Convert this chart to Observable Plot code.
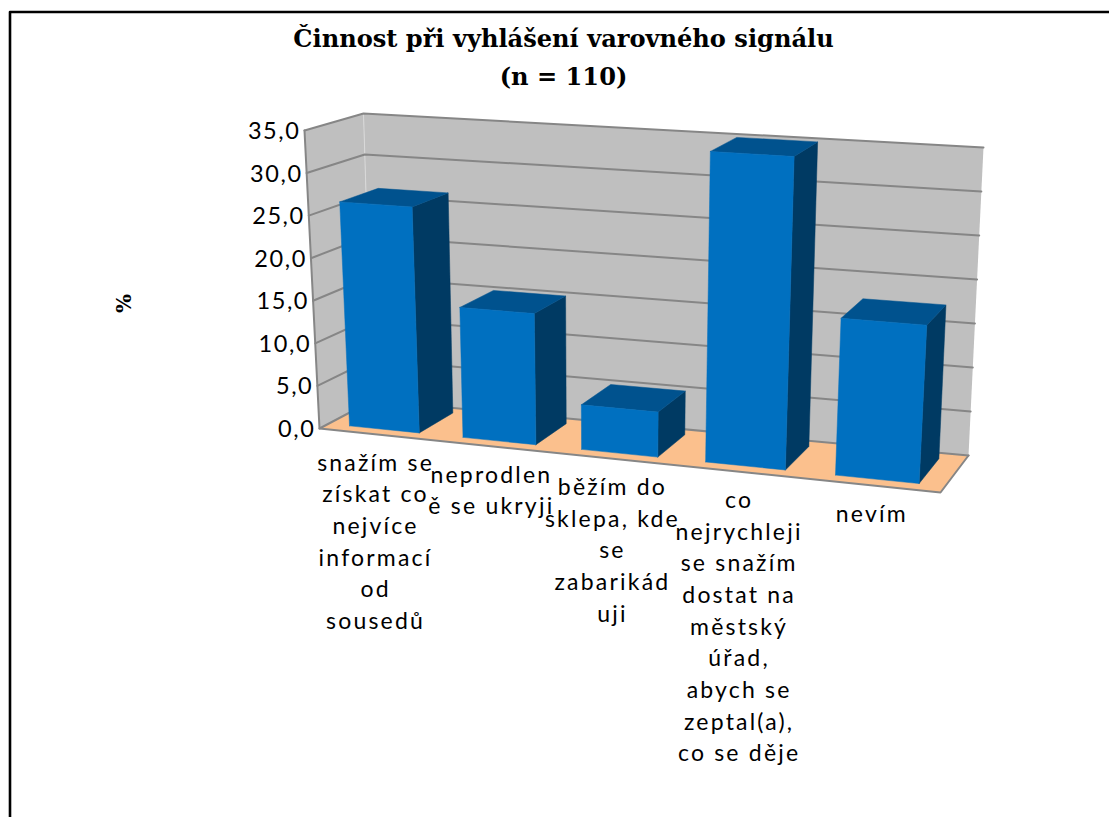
<!DOCTYPE html>
<html lang="cs">
<head>
<meta charset="utf-8">
<script src="https://cdn.jsdelivr.net/npm/d3@7"></script>
<script src="https://cdn.jsdelivr.net/npm/@observablehq/plot@0.6"></script>
<style>
html,body{margin:0;padding:0;background:#fff;overflow:hidden}
</style>
</head>
<body>
<div id="chart"></div>
<script>
const titleLines = ["Činnost při vyhlášení varovného signálu\n(n = 110)"];
const axisTitle = ["%"];
const categories = [
  "snažím se\nzískat co\nnejvíce\ninformací\nod\nsousedů",
  "neprodlen\ně se ukryji",
  "běžím do\nsklepa, kde\nse\nzabarikád\nuji",
  "co\nnejrychleji\nse snažím\ndostat na\nměstský\núřad,\nabych se\nzeptal(a),\nco se děje",
  "nevím"
];
const values = [26.4, 15.1, 5.1, 35, 17.4];
const ticks = [0, 5, 10, 15, 20, 25, 30, 35];

const vMax = 35, barHalf = 0.062, d0 = 0.17, d1 = 0.85, persp = 0.12;
// corners of the 3D plot box in the picture
const FLB=[319,428], FLT=[304,130], FRB=[940,492], FRT=[957,170],
      BLB=[372,400], BLT=[363,113], BRB=[968,455], BRT=[983,147];
const mix=(a,b,t)=>[a[0]+(b[0]-a[0])*t,a[1]+(b[1]-a[1])*t];
// u: 0..1 along categories, v: value, d: 0 front .. 1 back
function P(u,v,d){
  const s=u/(1+persp*(1-u)), t=v/vMax;
  const f=mix(mix(FLB,FRB,s),mix(FLT,FRT,s),t);
  const b=mix(mix(BLB,BRB,s),mix(BLT,BRT,s),t);
  return mix(f,b,d);
}
const faces=[];
const face=(id,color,pts)=>{[...pts,pts[0]].forEach(p=>faces.push({id,color,x:p[0],y:p[1]}))};
face("left","#BFBFBF",[P(0,0,0),P(0,vMax,0),P(0,vMax,1),P(0,0,1)]);
face("back","#BFBFBF",[P(0,0,1),P(0,vMax,1),P(1,vMax,1),P(1,0,1)]);
face("floor","#FBC08D",[P(0,0,0),P(0,0,1),P(1,0,1),P(1,0,0)]);

const grid=[];
ticks.forEach(t=>[P(0,t,0),P(0,t,1),P(1,t,1)].forEach(p=>grid.push({id:"g"+t,x:p[0],y:p[1]})));
[P(0,vMax,0),P(0,0,0),P(1,0,0),P(1,0,1)].forEach(p=>grid.push({id:"edge",x:p[0],y:p[1]}));

const barFaces=[];
const bface=(id,color,pts)=>{[...pts,pts[0]].forEach(p=>barFaces.push({id,color,x:p[0],y:p[1]}))};
values.forEach((v,i)=>{
  const c=(i+.5)/values.length, a=c-barHalf, b=c+barHalf;
  bface("s"+i,"#003A63",[P(b,0,d0),P(b,v,d0),P(b,v,d1),P(b,0,d1)]);
  bface("t"+i,"#00528E",[P(a,v,d0),P(a,v,d1),P(b,v,d1),P(b,v,d0)]);
  bface("f"+i,"#0070C0",[P(a,0,d0),P(a,v,d0),P(b,v,d0),P(b,0,d0)]);
});
const tickRows=ticks.map(t=>{const p=P(0,t,0);return{label:t.toFixed(1).replace(".",","),x:p[0]-4,y:p[1]+1}});
const catRows=categories.map((label,i)=>{const p=P((i+.5)/categories.length,0,0);return{label,x:p[0],y:p[1]+14}});

const frame=[{x:9.5,y:817},{x:9.5,y:11.5},{x:1109,y:11.5}];
const spaced=px=>(index,scales,values,dimensions,context,next)=>{
  const g=next(index,scales,values,dimensions,context);
  g.style.letterSpacing=px+"px";
  return g;
};

const chart=Plot.plot({
  width:1109,height:817,margin:0,
  x:{domain:[0,1109],range:[0,1109],axis:null},
  y:{domain:[0,817],range:[0,817],axis:null},
  style:{background:"#fff",display:"block"},
  marks:[
    Plot.line(frame,{x:"x",y:"y",stroke:"#000",strokeWidth:2.6}),
    Plot.line(faces,{x:"x",y:"y",z:"id",fill:"color",stroke:"none"}),
    Plot.line([P(0,0,1),P(0,vMax,1)].map(p=>({x:p[0],y:p[1]})),{x:"x",y:"y",stroke:"#d9d9d9",strokeWidth:1}),
    Plot.line(grid,{x:"x",y:"y",z:"id",stroke:"#868686",strokeWidth:2}),
    Plot.line(barFaces,{x:"x",y:"y",z:"id",fill:"color",stroke:"color",strokeWidth:.5}),
    Plot.text(tickRows,{x:"x",y:"y",text:"label",textAnchor:"end",fontFamily:"Lato",fontSize:23.5,fill:"#000",render:spaced(1.6)}),
    Plot.text(catRows,{x:"x",y:"y",text:"label",textAnchor:"middle",lineAnchor:"top",lineHeight:1.375,fontFamily:"Lato",fontSize:23,fill:"#000",render:spaced(2.2)}),
    Plot.text(titleLines,{x:()=>563,y:()=>53,text:d=>d,lineHeight:1.58,fontFamily:"DejaVu Serif",fontWeight:"bold",fontSize:24.1,fill:"#000"}),
    Plot.text(axisTitle,{x:()=>124,y:()=>303,text:d=>d,rotate:-90,fontFamily:"DejaVu Serif",fontWeight:"bold",fontSize:20,fill:"#000"})
  ]
});
document.getElementById("chart").append(chart);
</script>
</body>
</html>
